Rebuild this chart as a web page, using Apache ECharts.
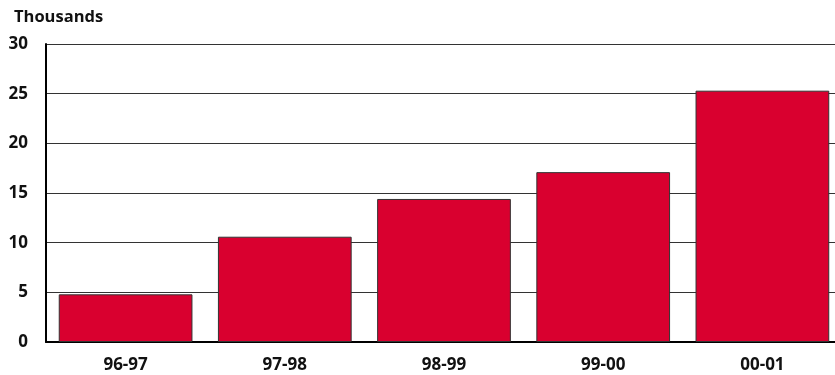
<!DOCTYPE html>
<html><head><meta charset="utf-8">
<script src="https://cdn.jsdelivr.net/npm/echarts@6/dist/echarts.min.js"></script>
<style>html,body{margin:0;padding:0;background:#fff}#c{width:835px;height:375px}</style>
</head><body><div id="c"></div>
<script>
const categories = ['96-97','97-98','98-99','99-00','00-01'];
const values = [4.8, 10.6, 14.4, 17.1, 25.3];
const yTicks = [0,5,10,15,20,25,30];

const chart = echarts.init(document.getElementById('c'));
const font = '"Open Sans", Lato, sans-serif';
chart.setOption({
  animation:false,
  grid:{left:46,width:796,top:44,height:298,containLabel:false,outerBoundsMode:'none'},
  title:{text:'Thousands',left:9,top:4,textStyle:{fontFamily:font,fontWeight:'bold',fontSize:16.5,color:'#111'}},
  xAxis:{type:'category',data:categories,
    axisLine:{lineStyle:{color:'#000',width:2}},axisTick:{show:false},
    axisLabel:{fontFamily:font,fontWeight:'bold',fontSize:17,color:'#111',margin:15}},
  yAxis:{type:'value',min:0,max:30,interval:5,
    axisLine:{show:true,lineStyle:{color:'#000',width:2}},axisTick:{show:false},
    splitLine:{lineStyle:{color:'#333',width:1}},
    axisLabel:{fontFamily:font,fontWeight:'bold',fontSize:17,color:'#111',margin:18,
      formatter:v=>yTicks.includes(v)?String(v):''}},
  series:[{type:'bar',data:values,barCategoryGap:'16%',
    itemStyle:{color:'#d9002f',borderColor:'#333',borderWidth:1}}]
});
</script></body></html>
